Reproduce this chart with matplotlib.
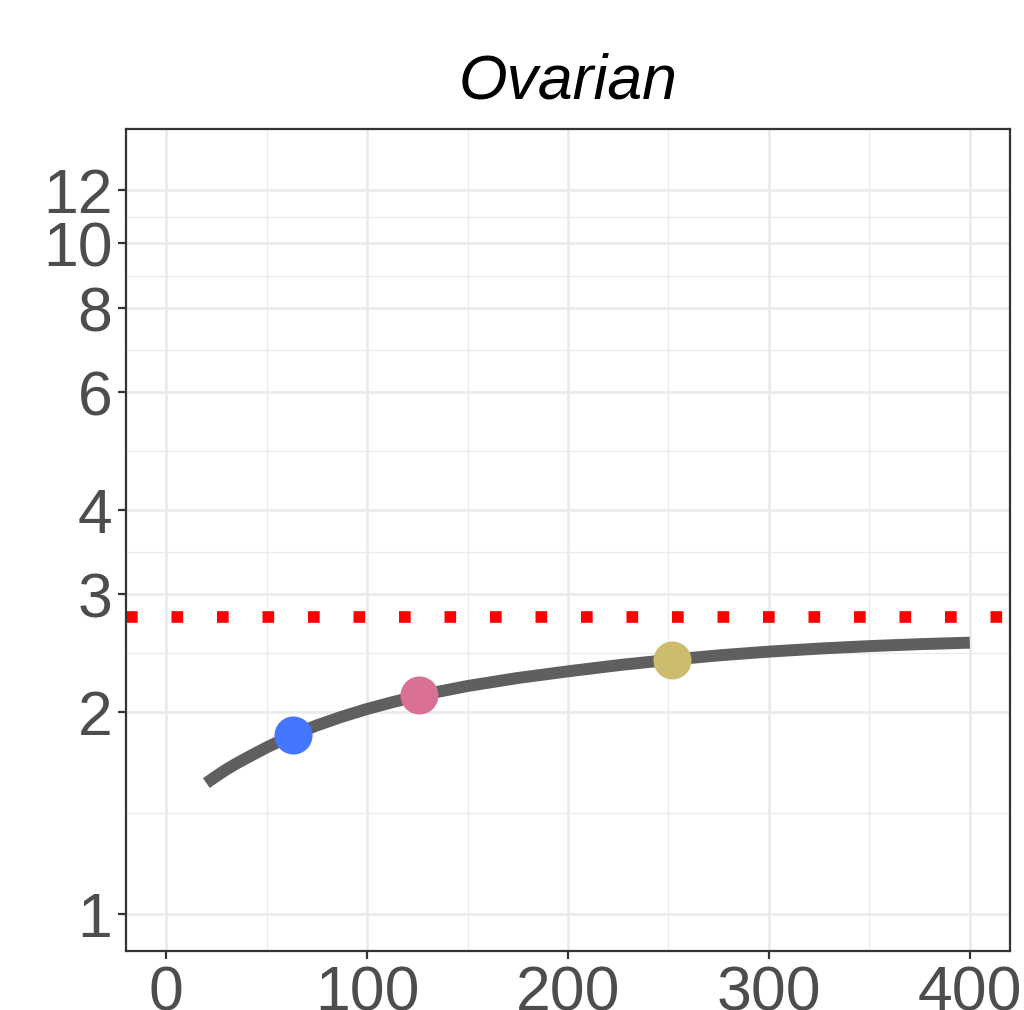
import numpy as np
import matplotlib
matplotlib.use("Agg")
import matplotlib.pyplot as plt

# ---- data ----
title = "Ovarian"
curve_x = [20, 25, 30, 35, 41, 50, 63, 75, 87, 100, 113, 126, 150, 175, 200, 226,
           252, 276, 300, 325, 350, 375, 400]
curve_y = [1.569, 1.607, 1.644, 1.678, 1.716, 1.773, 1.850, 1.912, 1.968, 2.023,
           2.072, 2.119, 2.189, 2.250, 2.302, 2.353, 2.397, 2.433, 2.463, 2.489,
           2.510, 2.527, 2.540]
point_x = [63, 126, 252]
point_y = [1.850, 2.119, 2.397]
point_colors = ["#4476FF", "#DA7093", "#CCBC6E"]
ref_y = 2.777
x_ticks = [0, 100, 200, 300, 400]
y_ticks = [1, 2, 3, 4, 6, 8, 10, 12]

plt.rcParams["font.family"] = ["Liberation Sans", "DejaVu Sans"]

fig = plt.figure(figsize=(10.24, 10.10), dpi=100)
ax = fig.add_axes([126/1024, 1 - 951/1010, (1010-126)/1024, (951-129)/1010])

ax.set_yscale("log")
ax.set_xlim(-20, 420)
ax.set_ylim(np.exp(-0.126), np.exp(2.695))

# grid
grid_c = "#EBEBEB"
for xt in x_ticks:
    ax.axvline(xt, color=grid_c, lw=2.0, zorder=0)
for xm in [(a + b) / 2 for a, b in zip(x_ticks[:-1], x_ticks[1:])]:
    ax.axvline(xm, color=grid_c, lw=1.0, zorder=0)
for yt in y_ticks:
    ax.axhline(yt, color=grid_c, lw=2.0, zorder=0)
for ym in [np.sqrt(a * b) for a, b in zip(y_ticks[:-1], y_ticks[1:])]:
    ax.axhline(ym, color=grid_c, lw=1.0, zorder=0)

# reference dotted line
ax.axhline(ref_y, color="#FF0000", lw=8.4, dashes=(1, 2.9), dash_capstyle="butt", zorder=2)

# curve
ax.plot(curve_x, curve_y, color="#5F5F5F", lw=8.6, solid_capstyle="butt",
        solid_joinstyle="round", zorder=3)

# points
for px, py, c in zip(point_x, point_y, point_colors):
    ax.plot(px, py, "o", ms=27.4, color=c, mec="none", zorder=4)

ax.set_xticks(x_ticks)
ax.set_xticklabels([str(v) for v in x_ticks])
ax.set_yticks(y_ticks)
ax.set_yticklabels([str(v) for v in y_ticks])
ax.yaxis.set_minor_locator(matplotlib.ticker.NullLocator())
ax.tick_params(axis="both", which="major", length=5.8, width=1.6, color="#333333",
               labelsize=45, labelcolor="#4D4D4D", pad=4)
for s in ax.spines.values():
    s.set_color("#333333")
    s.set_linewidth(1.6)
    s.set_zorder(5)

ax.set_title(title, fontsize=45, style="italic", pad=22)

fig.savefig("out.png", dpi=100, facecolor="white")
